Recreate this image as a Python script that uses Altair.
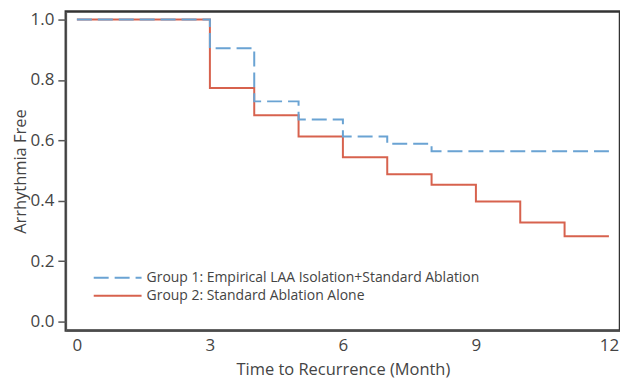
import altair as alt
import pandas as pd

g1_time = [0, 3, 4, 5, 6, 7, 8, 12]
g1_surv = [1.0, 0.905, 0.729, 0.669, 0.613, 0.589, 0.564, 0.564]
g2_time = [0, 3, 4, 5, 6, 7, 8, 9, 10, 11, 12]
g2_surv = [1.0, 0.773, 0.683, 0.613, 0.544, 0.488, 0.453, 0.398, 0.328, 0.283, 0.283]
groups = ["Group 1: Empirical LAA Isolation+Standard Ablation",
          "Group 2: Standard Ablation Alone"]
x_ticks = [0, 3, 6, 9, 12]
y_ticks = [0.0, 0.2, 0.4, 0.6, 0.8, 1.0]

rows = []
for t, s in zip(g2_time, g2_surv):
    rows.append({"time": t, "surv": s, "group": groups[1], "order": 0})
for t, s in zip(g1_time, g1_surv):
    rows.append({"time": t, "surv": s, "group": groups[0], "order": 1})
df = pd.DataFrame(rows)

FONT = "Open Sans"
TXT = "#444444"

leg = dict(title=None, orient="none", legendX=45, legendY=260, padding=0,
           symbolType="M-4,0H4", symbolSize=144, symbolStrokeWidth=2,
           labelFontSize=14, labelFont=FONT, labelColor=TXT, labelLimit=600,
           labelOffset=22, rowPadding=4)

chart = alt.Chart(df).mark_line(interpolate="step-after", strokeWidth=2).encode(
    x=alt.X("time:Q", scale=alt.Scale(domain=[-0.25, 12.25], nice=False, zero=False),
            axis=alt.Axis(values=x_ticks, title="Time to Recurrence (Month)", ticks=False,
                          grid=False, labelPadding=7, titlePadding=8, format="d")),
    y=alt.Y("surv:Q", scale=alt.Scale(domain=[-0.0294, 1.0261], nice=False, zero=False),
            axis=alt.Axis(values=y_ticks, title="Arrhythmia Free", grid=False, tickSize=8,
                          labelPadding=4, titlePadding=2, format=".1f")),
    color=alt.Color("group:N", scale=alt.Scale(domain=groups, range=["#6aa3d3", "#d7624e"]),
                    legend=alt.Legend(**leg)),
    strokeDash=alt.StrokeDash("group:N", scale=alt.Scale(domain=groups, range=[[15, 6], [1, 0]]),
                              legend=alt.Legend(**leg)),
    detail="group:N",
    order="order:Q",
).properties(
    width=556, height=320,
    autosize=alt.AutoSizeParams(type="none"),
    padding={"left": 58, "top": 3, "right": 0, "bottom": 50},
).configure_view(
    stroke="#333333", strokeWidth=2.5
).configure_axis(
    domainColor="#555555", domainWidth=1.5, tickColor="#555555", tickWidth=1.5,
    labelFont=FONT, labelFontSize=17, labelColor=TXT,
    titleFont=FONT, titleFontSize=16.5, titleColor=TXT, titleFontWeight="normal",
)

chart.save("out.html", embed_options={"renderer": "svg", "actions": False})
